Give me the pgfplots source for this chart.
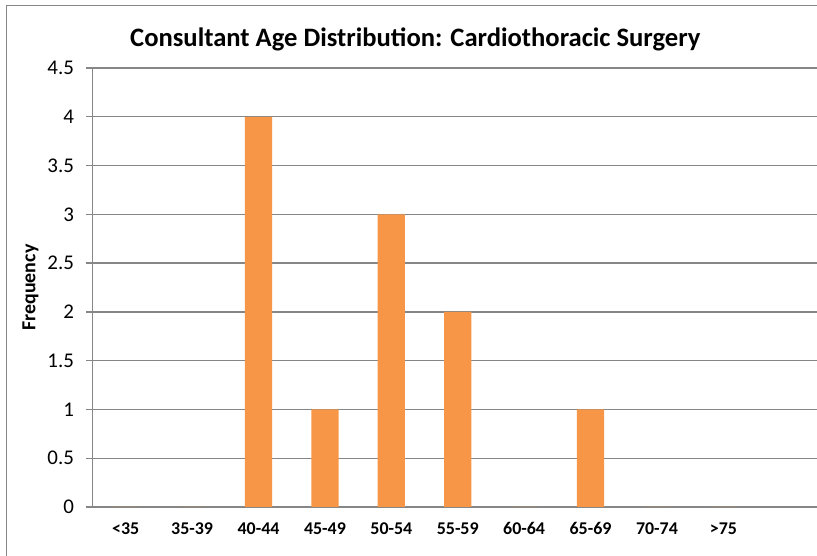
\documentclass[border=0pt]{standalone}
\usepackage{pgfplots}
\pgfplotsset{compat=1.18}
\usepackage{fontspec}
\setmainfont{Carlito}
\definecolor{barorange}{HTML}{F79646}
\definecolor{gridgray}{HTML}{868686}
\begin{document}
\begin{tikzpicture}
\path[use as bounding box] (0,0) rectangle (817bp,556bp);
\draw[gridgray, line width=1.3bp] (6.5bp,0) -- (6.5bp,550.5bp) -- (817bp,550.5bp);
\begin{axis}[
  at={(92.5bp,49bp)}, anchor=south west,
  scale only axis, width=724.5bp, height=439bp,
  xmin=-0.5, xmax=10.41, ymin=0, ymax=4.5,
  ytick={0,0.5,...,4.5},
  xtick={0,...,9},
  xticklabels={{<35},{35-39},{40-44},{45-49},{50-54},{55-59},{60-64},{65-69},{70-74},{>75}},
  x tick label style={font=\fontsize{18}{20}\selectfont\bfseries, yshift=-6bp},
  y tick label style={font=\fontsize{21}{23}\selectfont, xshift=-9bp},
  /pgf/number format/assume math mode=true,
  yticklabel={\pgfmathprintnumber[fixed]{\tick}},
  major tick length=6bp,
  ytick style={gridgray, line width=1.3bp},
  xtick style={draw=none},
  tick align=outside,
  ymajorgrids, grid style={gridgray, line width=1.3bp},
  axis x line*=bottom, axis y line*=left,
  axis line style={gridgray, line width=1.3bp, -},
  title={Consultant Age Distribution: Cardiothoracic Surgery},
  title style={font=\fontsize{26.7}{30}\selectfont\bfseries, at={(0.4455,1)}, anchor=base, yshift=16bp},
  ylabel={Frequency},
  ylabel style={font=\fontsize{20}{22}\selectfont\bfseries, at={(-0.0855,0.5)}, anchor=center},
  clip=false,
]
\addplot[ybar, bar width=0.41, fill=barorange, draw=none] coordinates {
(0,0) (1,0) (2,4) (3,1) (4,3) (5,2) (6,0) (7,1) (8,0) (9,0)
};
\end{axis}
\end{tikzpicture}
\end{document}
